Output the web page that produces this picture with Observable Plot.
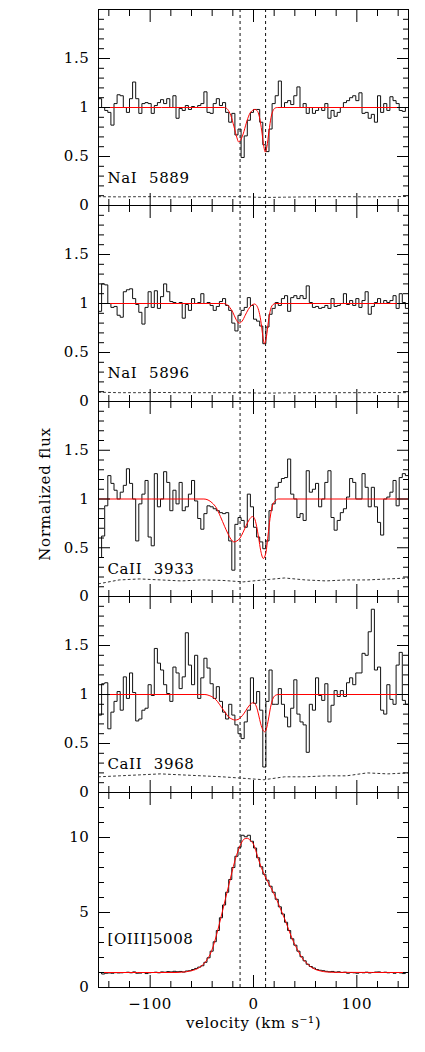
<!DOCTYPE html>
<html>
<head>
<meta charset="utf-8">
<script src="https://cdn.jsdelivr.net/npm/d3@7"></script>
<script src="https://cdn.jsdelivr.net/npm/@observablehq/plot@0.6"></script>
<style>
  body { margin: 0; background: #fff; }
  #chart { position: relative; width: 425px; height: 1052px; background: #fff; font-family: "DejaVu Serif", serif; }
  #ylabel { position: absolute; left: 45px; top: 494px; transform: translate(-50%, -50%) rotate(-90deg);
            white-space: nowrap; font-size: 15px; letter-spacing: 0.8px; color: #000; }
</style>
</head>
<body>
<div id="chart"><div id="ylabel">Normalized flux</div></div>
<script>
// ---------- data ----------
const velocity = [
  -150,-147,-144,-141,-138,-135,-132,-129,-126,-123,
  -120,-117,-114,-111,-108,-105,-102,-99,-96,-93,
  -90,-87,-84,-81,-78,-75,-72,-69,-66,-63,
  -60,-57,-54,-51,-48,-45,-42,-39,-36,-33,
  -30,-27,-24,-21,-18,-15,-12,-9,-6,-3,
  0,3,6,9,12,15,18,21,24,27,
  30,33,36,39,42,45,48,51,54,57,
  60,63,66,69,72,75,78,81,84,87,
  90,93,96,99,102,105,108,111,114,117,
  120,123,126,129,132,135,138,141,144,147,
  150];

const nai5889 = [
  1.09,1.00,0.97,0.95,0.82,1.04,1.13,1.12,1.00,0.95,
  1.09,1.26,1.09,0.94,1.04,1.05,1.04,0.94,1.02,1.05,
  1.08,1.04,1.09,1.00,1.12,0.89,0.99,0.97,1.02,0.98,
  1.01,1.00,1.02,1.04,1.16,0.95,0.94,1.04,1.09,1.02,
  1.05,0.95,0.85,0.94,0.72,0.78,0.49,0.71,0.87,0.95,
  0.98,0.98,0.85,0.62,0.55,0.78,1.04,1.12,1.27,1.00,
  1.05,1.07,1.03,1.12,1.21,1.00,1.04,0.94,1.00,0.94,
  0.97,1.00,0.97,1.04,0.89,0.97,0.91,0.95,1.00,1.05,
  1.07,1.10,1.12,1.07,1.15,0.94,0.95,0.89,0.93,0.85,
  1.12,0.95,1.04,0.97,1.11,1.07,1.04,0.97,0.96,1.00,
  1.02];

const nai5896 = [
  0.92,1.20,1.19,1.00,0.96,0.97,0.88,0.86,1.12,1.14,
  1.15,1.05,0.99,0.91,0.79,0.96,1.12,0.96,1.13,0.95,
  1.07,1.20,1.12,1.02,1.01,1.00,1.01,0.85,0.99,0.93,
  1.05,1.00,1.01,1.10,1.00,1.01,0.98,0.93,0.97,1.02,
  1.05,0.98,0.93,0.80,0.72,0.88,0.93,0.96,1.06,0.98,
  0.84,0.82,0.77,0.59,0.76,0.89,0.95,1.01,0.98,1.05,
  1.08,0.92,1.06,1.08,1.05,1.08,1.05,1.18,1.01,0.96,
  0.97,0.95,0.96,0.98,0.95,1.05,0.97,0.98,1.00,1.10,
  0.99,1.03,0.98,1.05,0.96,1.03,1.12,0.89,0.97,1.01,
  1.05,1.00,1.03,1.01,1.03,1.08,0.95,1.10,1.01,0.95,
  0.89];

const caii3933 = [
  0.40,0.62,0.93,1.24,1.16,1.09,1.00,1.07,1.14,1.31,
  1.16,1.00,0.57,0.95,1.05,1.19,0.61,0.52,1.26,0.92,
  1.00,1.28,1.17,0.88,1.09,0.95,1.17,0.88,0.92,1.05,
  1.19,0.98,0.80,0.69,0.85,0.93,0.92,0.90,0.88,0.86,
  0.85,0.86,0.57,0.27,0.74,0.81,0.78,0.71,1.05,0.92,
  0.71,0.61,0.56,0.49,0.57,0.88,0.95,1.12,1.17,1.21,
  1.22,1.41,1.05,1.00,0.81,0.85,0.78,1.29,1.07,1.10,
  1.16,0.92,1.00,1.17,1.29,0.81,0.68,0.78,0.86,0.90,
  1.02,1.21,1.17,1.00,1.00,1.26,1.12,0.92,1.12,0.92,
  0.76,0.63,1.00,1.02,1.07,1.19,0.93,1.22,1.26,1.24,
  0.92];

const caii3968 = [
  0.79,1.11,1.12,0.65,0.82,0.93,1.03,0.84,1.18,0.96,
  1.22,1.02,0.73,0.75,0.84,0.86,1.10,0.99,1.47,1.32,
  1.25,1.10,1.01,0.93,1.28,1.22,1.06,1.18,1.63,1.30,
  1.10,1.40,0.96,1.17,1.37,1.27,1.11,0.96,1.08,0.93,
  0.82,0.75,0.90,0.79,0.69,0.60,0.55,0.72,0.84,1.17,
  0.91,1.03,0.84,0.26,0.93,1.25,0.90,0.90,1.06,0.90,
  0.77,0.67,0.86,1.15,0.80,0.72,0.69,0.41,0.90,0.84,
  1.17,0.99,0.94,1.11,0.72,0.89,1.04,0.98,1.04,0.98,
  1.12,1.17,1.10,1.22,1.22,1.42,1.40,1.64,1.87,1.25,
  1.28,0.84,0.80,1.10,0.95,0.90,1.30,1.43,0.94,0.90,
  1.45];

const oiii5008 = [
  1.00,0.90,0.95,0.97,0.95,0.99,0.97,0.98,1.00,1.02,
  0.98,1.04,0.95,0.96,1.00,0.93,0.98,1.00,1.02,0.98,
  1.04,1.02,1.06,1.04,1.08,1.05,1.07,1.03,1.10,1.12,
  1.20,1.27,1.36,1.45,1.68,1.98,2.42,3.05,3.80,4.65,
  5.50,6.35,7.20,8.00,8.75,9.35,10.15,10.05,10.15,9.75,
  9.30,8.65,8.05,7.55,7.15,6.75,6.35,5.88,5.38,4.90,
  4.35,3.80,3.25,2.82,2.42,2.05,1.78,1.55,1.40,1.30,
  1.20,1.15,1.12,1.08,1.05,1.07,1.02,1.05,1.00,1.02,
  0.95,1.00,0.98,0.95,1.00,0.98,1.02,0.97,1.00,1.03,
  1.04,1.00,1.02,0.98,1.00,0.95,1.00,0.97,0.93,1.00,
  1.00];

// error spectra (coarse)
const errVelocity = [-150,-130,-110,-90,-70,-50,-30,-10,10,30,50,70,90,110,130,150];
const nai5889Err = [0.090,0.088,0.090,0.090,0.087,0.090,0.090,0.090,0.082,0.085,0.088,0.090,0.090,0.088,0.090,0.092];
const nai5896Err = [0.095,0.090,0.090,0.092,0.090,0.090,0.090,0.090,0.085,0.088,0.090,0.090,0.090,0.090,0.092,0.090];
const caii3933Err = [0.13,0.17,0.18,0.17,0.16,0.17,0.165,0.15,0.17,0.19,0.17,0.16,0.17,0.17,0.18,0.19];
const caii3968Err = [0.16,0.17,0.18,0.19,0.18,0.17,0.16,0.145,0.13,0.16,0.16,0.17,0.17,0.20,0.19,0.20];

// fitted models
const nai5889ModelV = [-150,-28,-25,-22,-19,-16,-14.5,-13,-10,-7,-4,-1,1.5,4,6,8,10,11.5,13,15,17,19,21,23,150];
const nai5889ModelF = [1,1,0.98,0.92,0.81,0.69,0.65,0.66,0.73,0.84,0.93,0.97,0.98,0.96,0.89,0.76,0.6,0.545,0.6,0.76,0.9,0.97,0.995,1,1];
const nai5896ModelV = [-150,-29,-26,-23,-20,-17,-14,-11,-8,-5,-2,1,3,5,7,9,10.7,12.5,14.5,16.5,19,21,150];
const nai5896ModelF = [1,1,0.99,0.96,0.91,0.84,0.80,0.82,0.88,0.94,0.98,0.995,0.98,0.93,0.83,0.67,0.59,0.66,0.82,0.94,0.99,1,1];
const caii3933ModelV = [-150,-48,-44,-40,-36,-32,-28,-25,-22,-19,-16,-13,-10,-7,-4,-1,1,3,5,7,9.5,12,14,16,18,21,24,150];
const caii3933ModelF = [1,1,0.99,0.96,0.91,0.82,0.72,0.65,0.59,0.56,0.57,0.6,0.66,0.73,0.79,0.82,0.8,0.72,0.6,0.47,0.39,0.45,0.62,0.8,0.92,0.98,1,1];
const caii3968ModelV = [-150,-47,-43,-39,-35,-31,-27,-24,-21,-18,-15,-12,-9,-6,-3,-1,1,3,5,7,9,10.7,12.5,14.5,16.5,18.5,21,24,150];
const caii3968ModelF = [1,1,0.99,0.97,0.93,0.87,0.81,0.77,0.75,0.74,0.745,0.77,0.81,0.86,0.9,0.915,0.91,0.87,0.79,0.7,0.64,0.62,0.65,0.75,0.87,0.95,0.99,1,1];
const oiiiModelV = [-150,-75,-70,-65,-60,-56,-52,-48,-45,-42,-39,-36,-33,-30,-27,-24,-21,-18,-15,-12,-9,-6,-3,0,3,6,9,12,15,18,21,24,27,30,33,36,39,42,45,48,51,55,60,65,70,80,150];
const oiiiModelF = [1,1,1.02,1.05,1.12,1.2,1.35,1.58,1.85,2.2,2.75,3.45,4.25,5.1,5.95,6.8,7.65,8.45,9.1,9.6,9.9,9.95,9.8,9.55,8.95,8.3,7.75,7.3,6.9,6.5,6.08,5.6,5.1,4.6,4.05,3.5,3.0,2.6,2.2,1.88,1.65,1.4,1.2,1.1,1.04,1.01,1];

// velocity components (dashed verticals)
const components = [-13, 11.7];

// tick values and labels
const xMajor = [-100, 0, 100];
const xMinor = [-140,-120,-80,-60,-40,-20,20,40,60,80,120,140];
const absMajor = [0, 0.5, 1, 1.5, 2];
const absMinor = [0.1,0.2,0.3,0.4,0.6,0.7,0.8,0.9,1.1,1.2,1.3,1.4,1.6,1.7,1.8,1.9];
const absLabels = [0, 0.5, 1, 1.5];
const emMajor = [0, 5, 10];
const emMinor = [1,2,3,4,6,7,8,9,11,12];
const emLabels = [0, 5, 10];

const panelNames = ["NaI\u2002\u20095889", "NaI\u2002\u20095896", "CaII\u2002\u20093933", "CaII\u2002\u20093968", "[OIII]5008"];
const xTitle = "velocity (km s\u207B\u00B9)";

// ---------- drawing ----------
const font = '"DejaVu Serif", serif';
const chart = document.getElementById("chart");

function panel(cfg) {
  const pad = 12;
  const mb = cfg.bottomAxis ? 70 : pad;
  const marks = [
    Plot.ruleX(components, {stroke: "#111", strokeWidth: 1, strokeDasharray: "3,3"}),
    cfg.errF ? Plot.line(errVelocity, {x: errVelocity, y: cfg.errF, stroke: "#333", strokeWidth: 1, strokeDasharray: "2,3", clip: true}) : null,
    Plot.line(velocity, {x: velocity, y: cfg.flux, curve: "step-after", stroke: "#111", strokeWidth: 1, clip: true}),
    Plot.line(cfg.modV, {x: cfg.modV, y: cfg.modF, curve: "monotone-x", stroke: "#ff0000", strokeWidth: 1, clip: true}),
    Plot.frame({stroke: "#000", strokeWidth: 1}),
    Plot.axisX({anchor: "top", ticks: xMajor, tickSize: -12, fill: "none", label: null}),
    Plot.axisX({anchor: "top", ticks: xMinor, tickSize: -6, fill: "none", label: null}),
    Plot.axisX({anchor: "bottom", ticks: xMajor, tickSize: -12, fill: "none", label: null}),
    Plot.axisX({anchor: "bottom", ticks: xMinor, tickSize: -6, fill: "none", label: null}),
    Plot.axisY({anchor: "left", ticks: cfg.yMajor, tickSize: -12, fill: "none", label: null}),
    Plot.axisY({anchor: "left", ticks: cfg.yMinor, tickSize: -6, fill: "none", label: null}),
    Plot.axisY({anchor: "right", ticks: cfg.yMajor, tickSize: -12, fill: "none", label: null}),
    Plot.axisY({anchor: "right", ticks: cfg.yMinor, tickSize: -6, fill: "none", label: null}),
    Plot.axisY({anchor: "left", ticks: cfg.yLabels, tickSize: 0, tickPadding: 9, tickFormat: d => String(d), label: null, fontSize: 15}),
    Plot.text([cfg.name], {text: d => d, frameAnchor: "bottom-left", dx: 9, dy: cfg.nameDy, textAnchor: "start", lineAnchor: "bottom", fontSize: 15, fill: "#000"})
  ];
  if (cfg.bottomAxis) {
    marks.push(Plot.axisX({anchor: "bottom", ticks: xMajor, tickSize: 0, tickPadding: 11, label: null, fontSize: 15}));
    marks.push(Plot.text([xTitle], {text: d => d, frameAnchor: "bottom", dy: 40, lineAnchor: "bottom", textAnchor: "middle", fontSize: 15, fill: "#000"}));
  }
  const svg = Plot.plot({
    width: 425,
    height: cfg.inner + pad + mb,
    marginLeft: 98,
    marginRight: 17,
    marginTop: pad,
    marginBottom: mb,
    x: {domain: [-150, 150]},
    y: {domain: cfg.yDomain},
    style: {position: "absolute", left: "0px", top: (cfg.top - pad) + "px", background: "transparent",
            overflow: "visible", fontFamily: font, fontSize: "15px", color: "#000", letterSpacing: "0.6px"},
    marks
  });
  chart.appendChild(svg);
}

panel({top: 9,   inner: 196, yDomain: [0, 2], yMajor: absMajor, yMinor: absMinor, yLabels: absLabels,
       flux: nai5889, errF: nai5889Err, modV: nai5889ModelV, modF: nai5889ModelF, name: panelNames[0], nameDy: -23});
panel({top: 205, inner: 196, yDomain: [0, 2], yMajor: absMajor, yMinor: absMinor, yLabels: absLabels,
       flux: nai5896, errF: nai5896Err, modV: nai5896ModelV, modF: nai5896ModelF, name: panelNames[1], nameDy: -24});
panel({top: 401, inner: 195, yDomain: [0, 2], yMajor: absMajor, yMinor: absMinor, yLabels: absLabels,
       flux: caii3933, errF: caii3933Err, modV: caii3933ModelV, modF: caii3933ModelF, name: panelNames[2], nameDy: -23});
panel({top: 596, inner: 196, yDomain: [0, 2], yMajor: absMajor, yMinor: absMinor, yLabels: absLabels,
       flux: caii3968, errF: caii3968Err, modV: caii3968ModelV, modF: caii3968ModelF, name: panelNames[3], nameDy: -24});
panel({top: 792, inner: 195, yDomain: [0, 13], yMajor: emMajor, yMinor: emMinor, yLabels: emLabels,
       flux: oiii5008, errF: null, modV: oiiiModelV, modF: oiiiModelF, name: panelNames[4], nameDy: -44, bottomAxis: true});
</script>
</body>
</html>
